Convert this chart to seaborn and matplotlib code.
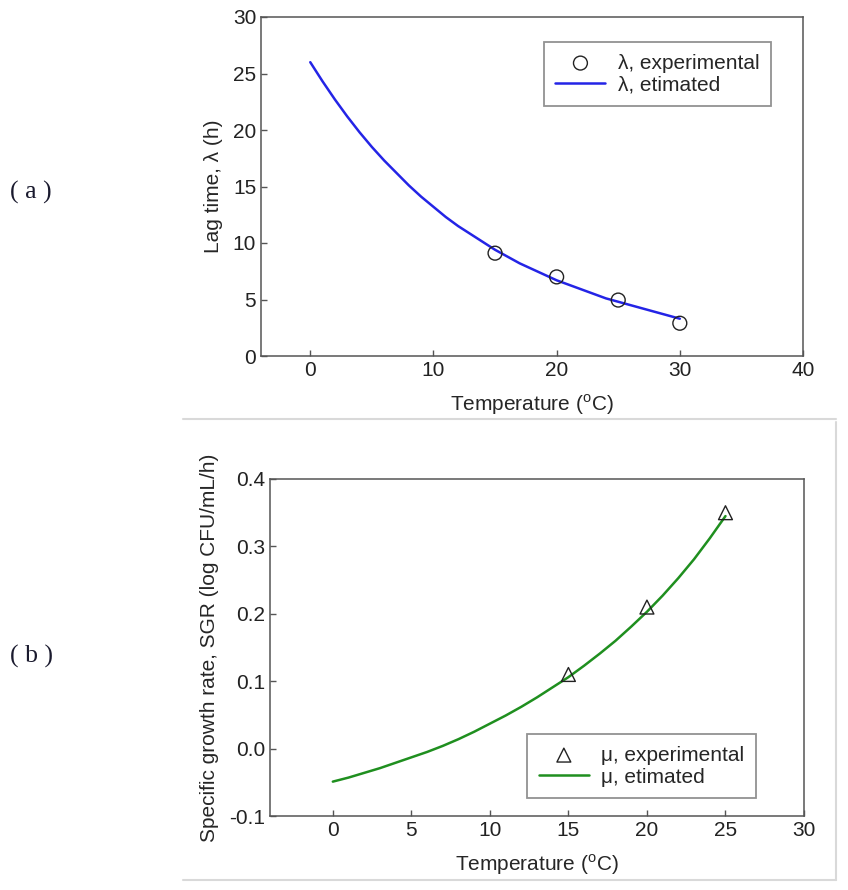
import matplotlib
matplotlib.use("Agg")
import matplotlib.pyplot as plt
from matplotlib.lines import Line2D
import seaborn as sns
import pandas as pd

# (a) lag time
lag_temp_exp = [15, 20, 25, 30]
lag_exp = [9.1, 7.0, 4.95, 2.9]
lag_temp_est = list(range(0, 31))
lag_est = [26.0, 24.3, 22.7, 21.2, 19.8, 18.5, 17.3, 16.2, 15.1, 14.1,
           13.2, 12.3, 11.5, 10.8, 10.1, 9.4, 8.8, 8.2, 7.7, 7.2,
           6.7, 6.3, 5.9, 5.5, 5.1, 4.8, 4.5, 4.2, 3.9, 3.6, 3.3]

# (b) specific growth rate
sgr_temp_exp = [15, 20, 25]
sgr_exp = [0.11, 0.21, 0.35]
sgr_temp_est = list(range(0, 26))
sgr_est = [-0.049, -0.043, -0.036, -0.029, -0.021, -0.013, -0.005, 0.004,
           0.014, 0.025, 0.037, 0.049, 0.062, 0.076, 0.091, 0.106, 0.123,
           0.141, 0.160, 0.181, 0.203, 0.227, 0.253, 0.281, 0.312, 0.345]

sns.set_style("ticks", {"xtick.direction": "in", "ytick.direction": "in"})
plt.rcParams["font.family"] = ["Liberation Sans", "DejaVu Sans"]

FS = 15
SPINE = "#555555"
xlabel = r"Temperature ($^{\mathregular{o}}$C)"


def style_axes(ax):
    for s in ax.spines.values():
        s.set_color(SPINE)
        s.set_linewidth(1.1)
    ax.tick_params(axis="both", labelsize=FS, colors="#222222", length=4,
                   width=1, color=SPINE, top=False, right=False)


def style_legend(leg):
    leg.get_frame().set_edgecolor("#777777")
    leg.get_frame().set_linewidth(1.3)


fig = plt.figure(figsize=(8.48, 8.90), dpi=100)

# top panel
ax1 = fig.add_axes([261 / 848, 1 - 356 / 890, 542 / 848, 339 / 890])
df_lag_est = pd.DataFrame({"T": lag_temp_est, "v": lag_est})
df_lag_exp = pd.DataFrame({"T": lag_temp_exp, "v": lag_exp})
sns.scatterplot(data=df_lag_exp, x="T", y="v", ax=ax1, marker="o", s=100,
                facecolor="none", edgecolor="#222222", linewidth=1.0,
                label="\u03bb, experimental", zorder=3)
sns.lineplot(data=df_lag_est, x="T", y="v", ax=ax1, color="#2424e6",
             linewidth=1.8, label="\u03bb, etimated", zorder=2)
ax1.set_xlim(-4, 40)
ax1.set_ylim(0, 30)
ax1.set_xticks([0, 10, 20, 30, 40])
ax1.set_yticks([0, 5, 10, 15, 20, 25, 30])
ax1.set_xlabel(xlabel, fontsize=FS, labelpad=9)
ax1.set_ylabel("Lag time, \u03bb (h)", fontsize=FS, labelpad=7)
style_axes(ax1)
leg1 = ax1.legend(loc="upper right", bbox_to_anchor=(0.941, 0.926),
                  borderaxespad=0, fontsize=FS, frameon=True, fancybox=False,
                  handlelength=2.4, handletextpad=0.6, labelspacing=0.15,
                  borderpad=0.55)
style_legend(leg1)

# bottom panel
ax2 = fig.add_axes([270 / 848, 1 - 816 / 890, 534 / 848, 337 / 890])
df_sgr_est = pd.DataFrame({"T": sgr_temp_est, "v": sgr_est})
df_sgr_exp = pd.DataFrame({"T": sgr_temp_exp, "v": sgr_exp})
sns.scatterplot(data=df_sgr_exp, x="T", y="v", ax=ax2, marker="^", s=100,
                facecolor="none", edgecolor="#222222", linewidth=1.0,
                label="\u03bc, experimental", zorder=3)
sns.lineplot(data=df_sgr_est, x="T", y="v", ax=ax2, color="#1f8f1f",
             linewidth=1.8, label="\u03bc, etimated", zorder=2)
ax2.set_xlim(-4, 30)
ax2.set_ylim(-0.1, 0.4)
ax2.set_xticks([0, 5, 10, 15, 20, 25, 30])
ax2.set_yticks([-0.1, 0.0, 0.1, 0.2, 0.3, 0.4])
ax2.set_yticklabels(["-0.1", "0.0", "0.1", "0.2", "0.3", "0.4"])
ax2.set_xlabel(xlabel, fontsize=FS, labelpad=9)
ax2.set_ylabel("Specific growth rate, SGR (log CFU/mL/h)", fontsize=FS, labelpad=7)
style_axes(ax2)
leg2 = ax2.legend(loc="lower right", bbox_to_anchor=(0.910, 0.053),
                  borderaxespad=0, fontsize=FS, frameon=True, fancybox=False,
                  handlelength=2.4, handletextpad=0.6, labelspacing=0.15,
                  borderpad=0.55)
style_legend(leg2)

# panel letters
fig.text(31 / 848, 1 - 192 / 890, "( a )", ha="center", va="center",
         fontsize=18.5, family="Liberation Serif", color="#1a1a2e")
fig.text(31 / 848, 1 - 656 / 890, "( b )", ha="center", va="center",
         fontsize=18.5, family="Liberation Serif", color="#1a1a2e")

# light frame lines around the lower image
for xs, ys in [([183, 836], [419, 419]), ([836, 836], [422, 880]),
               ([183, 836], [880, 880])]:
    fig.add_artist(Line2D([x / 848 for x in xs], [1 - y / 890 for y in ys],
                          color="#d9d9d9", linewidth=1.5))

fig.savefig("out.png", dpi=100)
